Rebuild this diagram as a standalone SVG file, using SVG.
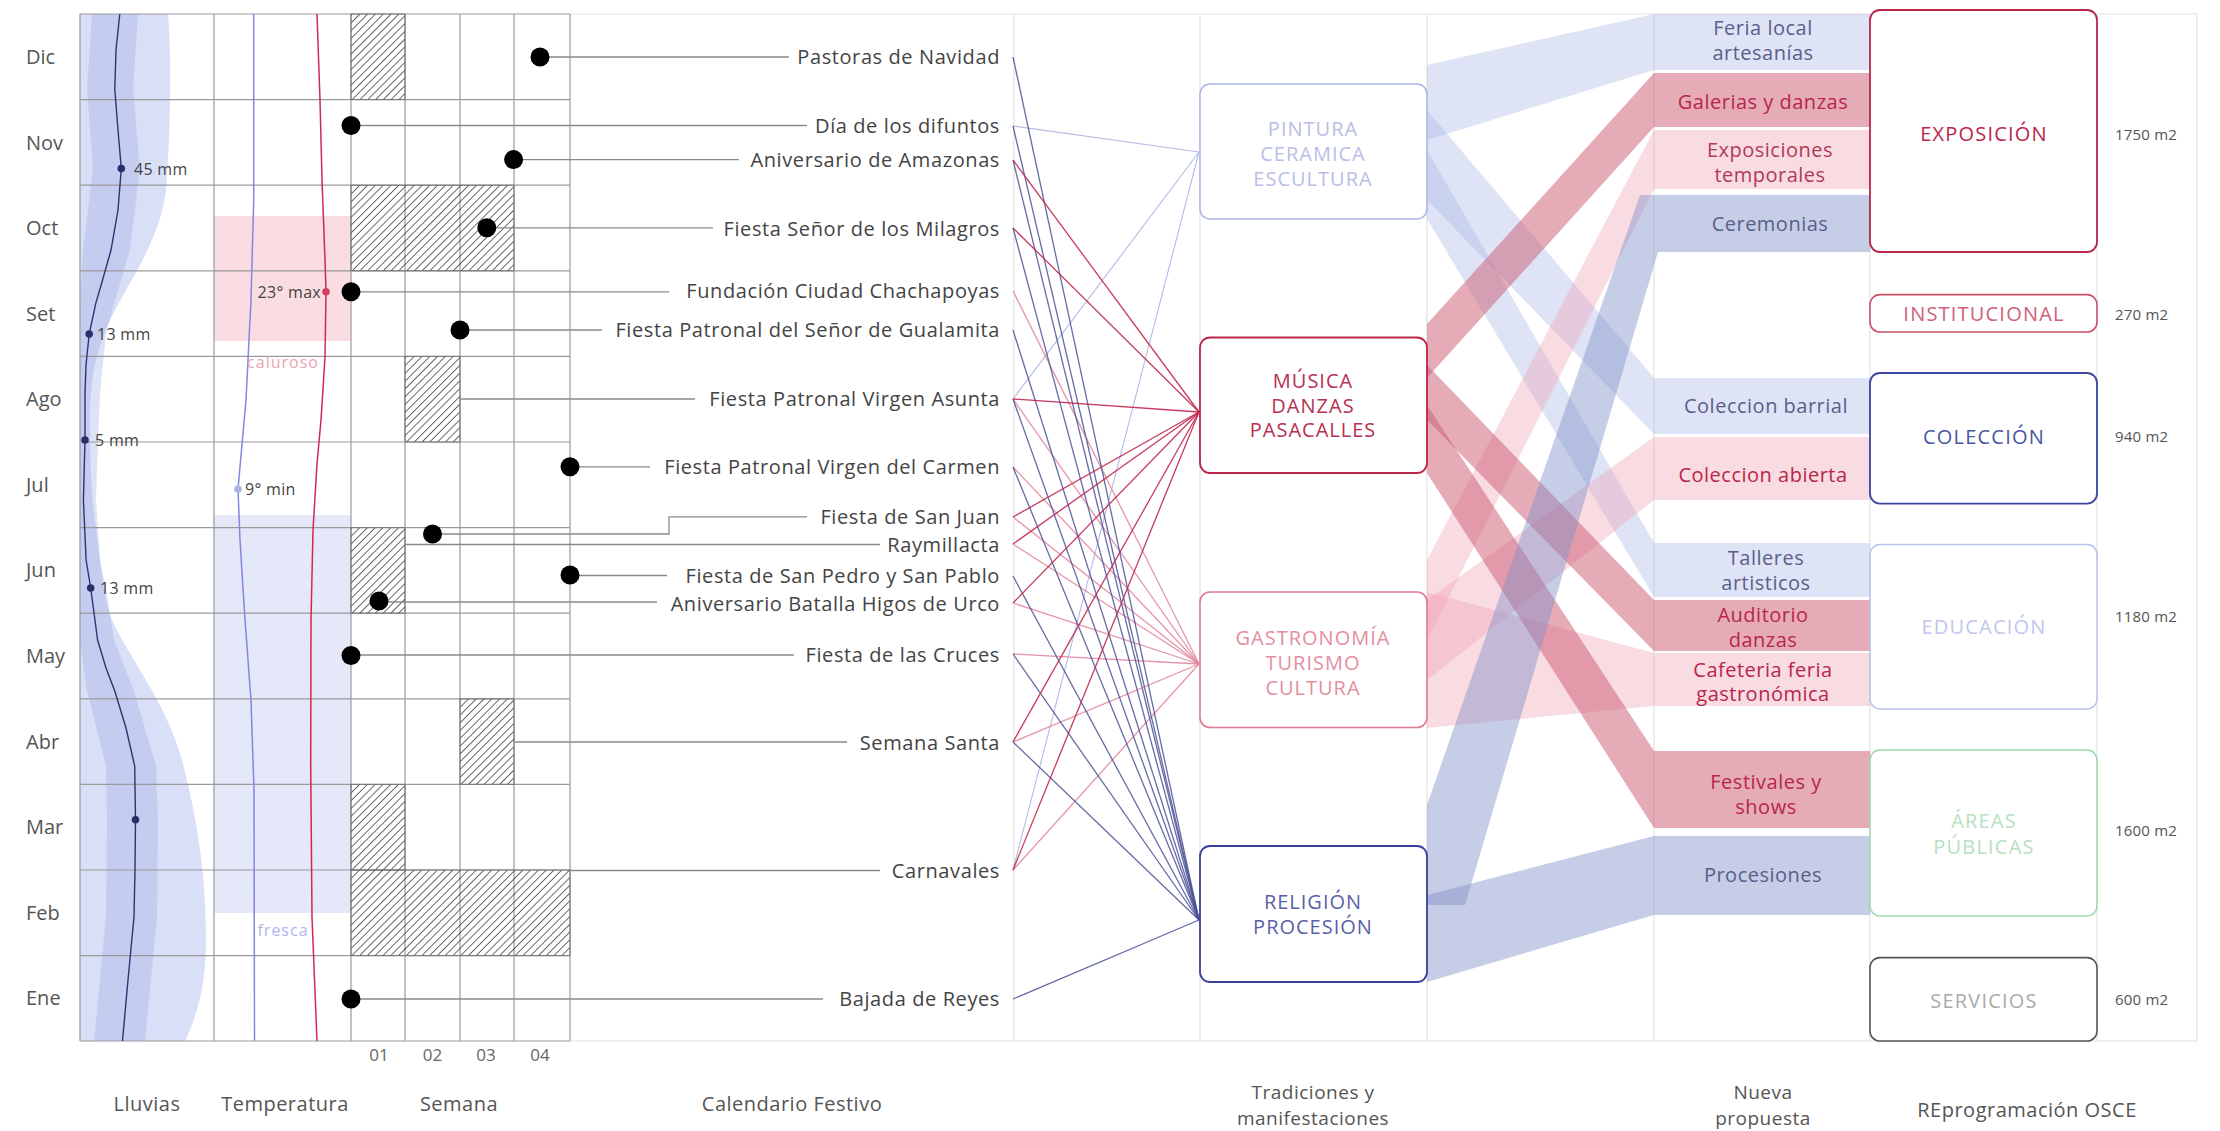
<svg xmlns="http://www.w3.org/2000/svg" width="2220" height="1131" viewBox="0 0 2220 1131">
<style>
text{font-family:'Open Sans','Liberation Sans',sans-serif;}
.mo{font-size:20px;fill:#555;}
.fe{font-size:20px;fill:#444;text-anchor:end;letter-spacing:0.6px;}
.sm{font-size:16px;fill:#444;letter-spacing:0.3px;}
.ax{font-size:20px;fill:#555;text-anchor:middle;letter-spacing:0.5px;}
.ax2{font-size:19px;fill:#555;text-anchor:middle;letter-spacing:0.5px;}
.wk{font-size:17px;fill:#666;text-anchor:middle;}
.g{stroke:#9a9a9a;stroke-width:1.2;fill:none;}
.gl{stroke:#e2e2e2;stroke-width:1.2;fill:none;}
.fl{stroke:#8a8a8a;stroke-width:1.3;fill:none;}
.dot{fill:#000;}
.cn{stroke:#4c5296;stroke-width:1.3;opacity:.85;}
.cm{stroke:#c0284f;stroke-width:1.3;opacity:.9;}
.cg{stroke:#e48aa0;stroke-width:1.3;opacity:.9;}
.cp{stroke:#b4bbe6;stroke-width:1.1;}
.nt{font-size:20px;text-anchor:middle;letter-spacing:1px;}
.nr{font-size:20px;text-anchor:middle;letter-spacing:1.2px;}
.np{font-size:20px;text-anchor:middle;letter-spacing:0.5px;}
.m2{font-size:15px;fill:#555;letter-spacing:0.2px;}
.bl{fill:#a9b8e6;opacity:.38;}
.bc{fill:#cc5a72;opacity:.5;}
.bp{fill:#f0a0b2;opacity:.38;}
.bb{fill:#8190c8;opacity:.45;}
</style>
<defs>
<pattern id="hatch" width="5.5" height="5.5" patternUnits="userSpaceOnUse" patternTransform="rotate(45)">
<line x1="0" y1="0" x2="0" y2="5.5" stroke="#1a1a1a" stroke-width="1.3"/>
</pattern>
</defs>
<rect width="2220" height="1131" fill="#fff"/>

<!-- Lluvias watercolor -->
<g id="lluvias">
<path d="M80,14 L168,14 C172,60 170,140 166,190 C160,240 130,280 110,320 C96,350 90,380 90,420 C90,470 92,500 96,528 C100,560 104,600 112,620 C130,660 165,700 182,760 C198,820 206,880 206,940 C206,990 195,1020 185,1041 L80,1041 Z" fill="#b9c4ee" opacity="0.55"/>
<path d="M92,14 L138,14 L133,89 L140,169 L130,250 L114,304 L106,334 L100,393 L98,440 L96,500 L100,560 L106,588 L114,640 L134,691 L156,766 L158,820 L157,917 L145,1041 L94,1041 L106,917 L107,820 L106,766 L87,691 L80,640 L80,300 L83,250 L93,169 L87,89 Z" fill="#9eabe4" opacity="0.35"/>
</g>
<g id="temp-bg">
<rect x="214" y="216" width="137" height="125" fill="#f8d7dd" opacity="0.85"/>
<rect x="214" y="515" width="137" height="398" fill="#e4e8f8"/>
</g>

<!-- grid -->
<g id="grid">
<line class="gl" x1="570" y1="14" x2="2197" y2="14"/>
<line class="gl" x1="570" y1="1041" x2="2197" y2="1041"/>
<line class="gl" x1="1014" y1="14" x2="1014" y2="1041"/>
<line class="gl" x1="1200" y1="14" x2="1200" y2="1041"/>
<line class="gl" x1="1427" y1="14" x2="1427" y2="1041"/>
<line class="gl" x1="1654" y1="14" x2="1654" y2="1041"/>
<line class="gl" x1="1870" y1="14" x2="1870" y2="1041"/>
<line class="gl" x1="2097" y1="14" x2="2097" y2="1041"/>
<line class="gl" x1="2197" y1="14" x2="2197" y2="1041"/>
<g class="g">
<line x1="80" y1="14" x2="570" y2="14"/>
<line x1="80" y1="99.6" x2="570" y2="99.6"/>
<line x1="80" y1="185.2" x2="570" y2="185.2"/>
<line x1="80" y1="270.8" x2="570" y2="270.8"/>
<line x1="80" y1="356.4" x2="570" y2="356.4"/>
<line x1="80" y1="442" x2="570" y2="442"/>
<line x1="80" y1="527.6" x2="570" y2="527.6"/>
<line x1="80" y1="613.2" x2="570" y2="613.2"/>
<line x1="80" y1="698.8" x2="570" y2="698.8"/>
<line x1="80" y1="784.4" x2="570" y2="784.4"/>
<line x1="80" y1="870" x2="570" y2="870"/>
<line x1="80" y1="955.6" x2="570" y2="955.6"/>
<line x1="80" y1="1041" x2="570" y2="1041"/>
<line x1="80" y1="14" x2="80" y2="1041"/>
<line x1="214" y1="14" x2="214" y2="1041"/>
<line x1="351" y1="14" x2="351" y2="1041"/>
<line x1="405" y1="14" x2="405" y2="1041"/>
<line x1="460" y1="14" x2="460" y2="1041"/>
<line x1="514" y1="14" x2="514" y2="1041"/>
<line x1="570" y1="14" x2="570" y2="1041"/>
</g>
</g>

<!-- hatched weeks -->
<g id="weeks" fill="url(#hatch)" stroke="#777" stroke-width="1">
<rect x="351" y="14" width="54" height="85.6"/>
<rect x="351" y="185.2" width="163" height="85.6"/>
<rect x="405" y="356.4" width="55" height="85.6"/>
<rect x="351" y="527.6" width="54" height="85.6"/>
<rect x="460" y="698.8" width="54" height="85.6"/>
<rect x="351" y="784.4" width="54" height="85.6"/>
<rect x="351" y="870" width="219" height="85.6"/>
</g>

<!-- rain / temperature lines -->
<g id="curves" fill="none">
<polyline points="119.8,14 116,50 114.8,89 118,130 121.3,168.6 118,210 111,250 102,282 95.7,303.6 89.2,334 86,365 85,393 85,440 83.4,500 86.1,560 90.7,588 97.6,640 106,668 114.8,691 126,728 134.7,766 135.5,820 135,870 134,917 128,980 122.5,1041" stroke="#2e336e" stroke-width="1.4"/>
<polyline points="253.7,14 253.7,200 251,300 246,400 238,489 240,540 245,620 251,700 254,790 254.5,1041" stroke="#8088e0" stroke-width="1.5"/>
<polyline points="317,14 320,100 322,180 325,260 326,292 325,357 321,420 317,464 313,530 311,620 310.7,766 312,917 317,1041" stroke="#cc2a50" stroke-width="1.5"/>
</g>
<g id="clima-labels">
<circle cx="121.3" cy="168.6" r="3.8" fill="#2a2f6a"/>
<circle cx="89.2" cy="334" r="3.8" fill="#2a2f6a"/>
<circle cx="85" cy="440" r="3.8" fill="#2a2f6a"/>
<circle cx="90.7" cy="588" r="3.8" fill="#2a2f6a"/>
<circle cx="135.5" cy="819.7" r="3.8" fill="#2a2f6a"/>
<text class="sm" x="134" y="174.5">45 mm</text>
<text class="sm" x="97" y="340">13 mm</text>
<text class="sm" x="95" y="446">5 mm</text>
<text class="sm" x="100" y="594">13 mm</text>
<circle cx="238" cy="489" r="3.8" fill="#a8b6e6"/>
<text class="sm" x="245" y="495">9° min</text>
<circle cx="326" cy="291.8" r="3.8" fill="#d04060"/>
<text class="sm" x="321" y="297.8" text-anchor="end">23° max</text>
<text x="283" y="368" font-size="16" letter-spacing="1" fill="#eaa5b2" text-anchor="middle">caluroso</text>
<text x="283" y="936" font-size="16" letter-spacing="1" fill="#b0b4ee" text-anchor="middle">fresca</text>
</g>

<!-- month labels -->
<g id="months" class="mo">
<text x="26" y="64">Dic</text>
<text x="26" y="149.5">Nov</text>
<text x="26" y="235">Oct</text>
<text x="26" y="320.5">Set</text>
<text x="26" y="406">Ago</text>
<text x="26" y="491.5">Jul</text>
<text x="26" y="577">Jun</text>
<text x="26" y="663">May</text>
<text x="26" y="748.5">Abr</text>
<text x="26" y="834">Mar</text>
<text x="26" y="919.5">Feb</text>
<text x="26" y="1005">Ene</text>
</g>

<!-- festival leader lines and dots -->
<g id="festival-leaders">
<polyline class="fl" points="540,57 789,57"/>
<polyline class="fl" points="351,125.5 807,125.5"/>
<polyline class="fl" points="513.6,159.6 739,159.6"/>
<polyline class="fl" points="486.8,227.8 713,227.8"/>
<polyline class="fl" points="351,291.8 669,291.8"/>
<polyline class="fl" points="460,330 602,330"/>
<polyline class="fl" points="460,399 695,399"/>
<polyline class="fl" points="570,466.8 650,466.8"/>
<polyline class="fl" points="432.5,534 669,534 669,516.8 807,516.8"/>
<polyline class="fl" points="405,544.5 880,544.5"/>
<polyline class="fl" points="570,575.5 667,575.5"/>
<polyline class="fl" points="379,602 657,602"/>
<polyline class="fl" points="351,655 794,655"/>
<polyline class="fl" points="514,742 847,742"/>
<polyline class="fl" points="570,870.5 880,870.5"/>
<polyline class="fl" points="351,999 823,999"/>
<circle class="dot" cx="540" cy="57" r="9.5"/>
<circle class="dot" cx="351" cy="125.5" r="9.5"/>
<circle class="dot" cx="513.6" cy="159.6" r="9.5"/>
<circle class="dot" cx="486.8" cy="227.8" r="9.5"/>
<circle class="dot" cx="351" cy="291.8" r="9.5"/>
<circle class="dot" cx="460" cy="330" r="9.5"/>
<circle class="dot" cx="570" cy="466.8" r="9.5"/>
<circle class="dot" cx="432.5" cy="534" r="9.5"/>
<circle class="dot" cx="570" cy="575" r="9.5"/>
<circle class="dot" cx="379" cy="601" r="9.5"/>
<circle class="dot" cx="351" cy="655.5" r="9.5"/>
<circle class="dot" cx="351" cy="999" r="9.5"/>
</g>

<!-- festival names -->
<g id="festivals" class="fe">
<text x="1000" y="64">Pastoras de Navidad</text>
<text x="1000" y="132.5">Día de los difuntos</text>
<text x="1000" y="166.5">Aniversario de Amazonas</text>
<text x="1000" y="235.5">Fiesta Señor de los Milagros</text>
<text x="1000" y="298">Fundación Ciudad Chachapoyas</text>
<text x="1000" y="337">Fiesta Patronal del Señor de Gualamita</text>
<text x="1000" y="406">Fiesta Patronal Virgen Asunta</text>
<text x="1000" y="474">Fiesta Patronal Virgen del Carmen</text>
<text x="1000" y="524">Fiesta de San Juan</text>
<text x="1000" y="551.5">Raymillacta</text>
<text x="1000" y="583">Fiesta de San Pedro y San Pablo</text>
<text x="1000" y="610.5">Aniversario Batalla Higos de Urco</text>
<text x="1000" y="661.5">Fiesta de las Cruces</text>
<text x="1000" y="749.5">Semana Santa</text>
<text x="1000" y="877.5">Carnavales</text>
<text x="1000" y="1006">Bajada de Reyes</text>
</g>

<!-- connectors festival -> tradition -->
<g id="connectors">
<line class="cp" x1="1013" y1="126" x2="1199" y2="152"/>
<line class="cp" x1="1013" y1="399" x2="1199" y2="152"/>
<line class="cp" x1="1013" y1="870" x2="1199" y2="152"/>
<line class="cg" x1="1013" y1="291" x2="1199" y2="664"/>
<line class="cg" x1="1013" y1="399" x2="1199" y2="664"/>
<line class="cg" x1="1013" y1="467" x2="1199" y2="664"/>
<line class="cg" x1="1013" y1="517" x2="1199" y2="664"/>
<line class="cg" x1="1013" y1="544" x2="1199" y2="664"/>
<line class="cg" x1="1013" y1="603" x2="1199" y2="664"/>
<line class="cg" x1="1013" y1="654" x2="1199" y2="664"/>
<line class="cg" x1="1013" y1="742" x2="1199" y2="664"/>
<line class="cg" x1="1013" y1="870" x2="1199" y2="664"/>
<line class="cn" x1="1013" y1="57" x2="1199" y2="920"/>
<line class="cn" x1="1013" y1="126" x2="1199" y2="920"/>
<line class="cn" x1="1013" y1="160" x2="1199" y2="920"/>
<line class="cn" x1="1013" y1="228" x2="1199" y2="920"/>
<line class="cn" x1="1013" y1="330" x2="1199" y2="920"/>
<line class="cn" x1="1013" y1="399" x2="1199" y2="920"/>
<line class="cn" x1="1013" y1="467" x2="1199" y2="920"/>
<line class="cn" x1="1013" y1="576" x2="1199" y2="920"/>
<line class="cn" x1="1013" y1="654" x2="1199" y2="920"/>
<line class="cn" x1="1013" y1="742" x2="1199" y2="920"/>
<line class="cn" x1="1013" y1="999" x2="1199" y2="920"/>
<line class="cm" x1="1013" y1="160" x2="1199" y2="412"/>
<line class="cm" x1="1013" y1="228" x2="1199" y2="412"/>
<line class="cm" x1="1013" y1="399" x2="1199" y2="412"/>
<line class="cm" x1="1013" y1="517" x2="1199" y2="412"/>
<line class="cm" x1="1013" y1="544" x2="1199" y2="412"/>
<line class="cm" x1="1013" y1="603" x2="1199" y2="412"/>
<line class="cm" x1="1013" y1="742" x2="1199" y2="412"/>
<line class="cm" x1="1013" y1="870" x2="1199" y2="412"/>
</g>

<!-- flow bands -->
<g id="bands">
<polygon class="bl" points="1427,65 1654,14 1870,14 1870,70 1654,70 1427,140"/>
<polygon class="bl" points="1427,110 1654,378 1870,378 1870,434 1654,434 1427,200"/>
<polygon class="bl" points="1427,150 1654,543 1870,543 1870,597 1654,597 1427,219"/>
<polygon class="bp" points="1427,560 1654,130 1870,130 1870,189 1654,189 1427,640"/>
<polygon class="bp" points="1427,600 1654,437 1870,437 1870,500 1654,500 1427,680"/>
<polygon class="bp" points="1427,592 1654,653 1870,653 1870,706 1654,706 1427,728"/>
<polygon class="bc" points="1427,324 1654,73 1870,73 1870,127 1654,127 1427,378"/>
<polygon class="bc" points="1427,365 1654,600 1870,600 1870,651 1654,651 1427,420"/>
<polygon class="bc" points="1427,405 1654,751 1870,751 1870,828 1654,828 1427,473"/>
<polygon class="bb" points="1427,805 1640,195 1870,195 1870,252 1658,252 1465,905 1427,905"/>
<polygon class="bb" points="1427,895 1654,836 1870,836 1870,915 1654,915 1427,982"/>
</g>

<!-- tradition nodes -->
<g id="node-pintura">
<rect x="1200" y="84" width="227" height="135" rx="10" fill="#fff" stroke="#aab3ea" stroke-width="1.5"/>
<text class="nt" x="1313" y="135.6" fill="#b9bee6">PINTURA</text>
<text class="nt" x="1313" y="160.6" fill="#b9bee6">CERAMICA</text>
<text class="nt" x="1313" y="185.6" fill="#b9bee6">ESCULTURA</text>
</g>
<g id="node-musica">
<rect x="1200" y="337.5" width="227" height="135.5" rx="10" fill="#fff" stroke="#b8264a" stroke-width="1.8"/>
<text class="nt" x="1313" y="388" fill="#b83050">MÚSICA</text>
<text class="nt" x="1313" y="412.5" fill="#b83050">DANZAS</text>
<text class="nt" x="1313" y="437" fill="#b83050">PASACALLES</text>
</g>
<g id="node-gastronomia">
<rect x="1200" y="592" width="227" height="135.5" rx="10" fill="#fff" stroke="#e07a90" stroke-width="1.6"/>
<text class="nt" x="1313" y="645" fill="#e58ea0" letter-spacing="0.6">GASTRONOMÍA</text>
<text class="nt" x="1313" y="669.5" fill="#e58ea0">TURISMO</text>
<text class="nt" x="1313" y="694.8" fill="#e58ea0">CULTURA</text>
</g>
<g id="node-religion">
<rect x="1200" y="846" width="227" height="136" rx="10" fill="#fff" stroke="#3a3f9e" stroke-width="1.8"/>
<text class="nt" x="1313" y="909" fill="#5a5fa8">RELIGIÓN</text>
<text class="nt" x="1313" y="933.5" fill="#5a5fa8">PROCESIÓN</text>
</g>

<!-- nueva propuesta labels -->
<g id="propuesta-labels" class="np">
<text x="1763" y="35" fill="#5a5f8a">Feria local</text>
<text x="1763" y="60" fill="#5a5f8a">artesanías</text>
<text x="1763" y="108.5" fill="#b8264a">Galerias y danzas</text>
<text x="1770" y="156.5" fill="#b03a55">Exposiciones</text>
<text x="1770" y="181.5" fill="#b03a55">temporales</text>
<text x="1770" y="231" fill="#5a5f8a">Ceremonias</text>
<text x="1766" y="413" fill="#5a5f8a">Coleccion barrial</text>
<text x="1763" y="481.5" fill="#b8264a">Coleccion abierta</text>
<text x="1766" y="564.5" fill="#5a5f8a">Talleres</text>
<text x="1766" y="590" fill="#5a5f8a">artisticos</text>
<text x="1763" y="622" fill="#b8264a">Auditorio</text>
<text x="1763" y="646.5" fill="#b8264a">danzas</text>
<text x="1763" y="676.5" fill="#b8264a">Cafeteria feria</text>
<text x="1763" y="701" fill="#b8264a">gastronómica</text>
<text x="1766" y="789" fill="#b8264a">Festivales y</text>
<text x="1766" y="814" fill="#b8264a">shows</text>
<text x="1763" y="882" fill="#5a5f8a">Procesiones</text>
</g>

<!-- reprogramacion nodes -->
<g id="node-exposicion">
<rect x="1870" y="10" width="227" height="242" rx="10" fill="#fff" stroke="#b8264a" stroke-width="1.8"/>
<text class="nr" x="1984" y="141" fill="#b8264a">EXPOSICIÓN</text>
<text class="m2" x="2115" y="139.5">1750 m2</text>
</g>
<g id="node-institucional">
<rect x="1870" y="294.6" width="227" height="37.4" rx="10" fill="#fff" stroke="#c8506a" stroke-width="1.6"/>
<text class="nr" x="1984" y="321" fill="#d06078">INSTITUCIONAL</text>
<text class="m2" x="2115" y="319.5">270 m2</text>
</g>
<g id="node-coleccion">
<rect x="1870" y="373" width="227" height="130.6" rx="10" fill="#fff" stroke="#3a45a0" stroke-width="1.8"/>
<text class="nr" x="1984" y="443.5" fill="#4a55a0">COLECCIÓN</text>
<text class="m2" x="2115" y="441.5">940 m2</text>
</g>
<g id="node-educacion">
<rect x="1870" y="544.5" width="227" height="164.5" rx="10" fill="#fff" stroke="#b8c0ee" stroke-width="1.5"/>
<text class="nr" x="1984" y="634" fill="#c0c6ee">EDUCACIÓN</text>
<text class="m2" x="2115" y="622">1180 m2</text>
</g>
<g id="node-areas">
<rect x="1870" y="750" width="227" height="166" rx="10" fill="#fff" stroke="#9fd8a8" stroke-width="1.5"/>
<text class="nr" x="1984" y="828" fill="#b8e0bf">ÁREAS</text>
<text class="nr" x="1984" y="854" fill="#b8e0bf">PÚBLICAS</text>
<text class="m2" x="2115" y="835.5">1600 m2</text>
</g>
<g id="node-servicios">
<rect x="1870" y="957.6" width="227" height="83.4" rx="10" fill="#fff" stroke="#555" stroke-width="1.6"/>
<text class="nr" x="1984" y="1007.6" fill="#aaa">SERVICIOS</text>
<text class="m2" x="2115" y="1004.5">600 m2</text>
</g>

<!-- axis labels -->
<g id="axis-labels">
<text class="wk" x="379" y="1061">01</text>
<text class="wk" x="432.5" y="1061">02</text>
<text class="wk" x="486" y="1061">03</text>
<text class="wk" x="540" y="1061">04</text>
<text class="ax" x="147" y="1111">Lluvias</text>
<text class="ax" x="285" y="1111">Temperatura</text>
<text class="ax" x="459" y="1111">Semana</text>
<text class="ax" x="792" y="1111">Calendario Festivo</text>
<text class="ax2" x="1313" y="1099">Tradiciones y</text>
<text class="ax2" x="1313" y="1125">manifestaciones</text>
<text class="ax2" x="1763" y="1099" fill="#b8264a">Nueva</text>
<text class="ax2" x="1763" y="1125" fill="#b8264a">propuesta</text>
<text class="ax" x="2027" y="1117">REprogramación OSCE</text>
</g>
</svg>
